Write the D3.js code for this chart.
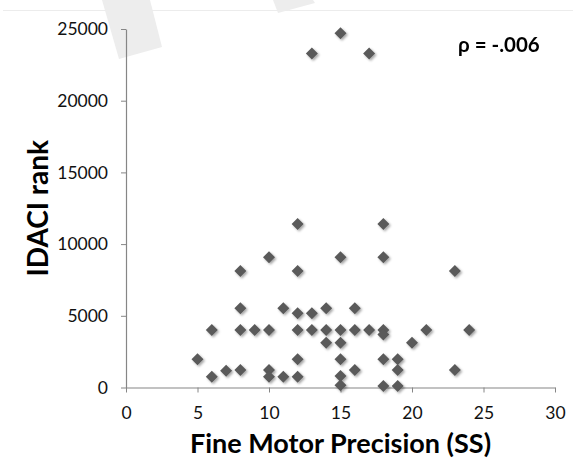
<!DOCTYPE html>
<html>
<head>
<meta charset="utf-8">
<script src="https://cdn.jsdelivr.net/npm/d3@7"></script>
<style>
  html, body { margin: 0; padding: 0; background: #fff; }
  svg { display: block; }
  text { font-family: Lato, "Open Sans", sans-serif; }
</style>
</head>
<body>
<svg id="chart" width="573" height="474"></svg>
<script>
// ---- data ----
const fineMotorSS = [
  5,
  6, 6,
  7,
  8, 8, 8, 8,
  9,
  10, 10, 10, 10,
  11, 11,
  12, 12, 12, 12, 12, 12,
  13, 13, 13,
  14, 14, 14,
  15, 15, 15, 15, 15, 15, 15,
  16, 16, 16,
  17, 17,
  18, 18, 18, 18, 18, 18,
  19, 19, 19,
  20,
  21,
  23, 23,
  24
];
const idaciRank = [
  1970,
  4010, 750,
  1170,
  8120, 5520, 4010, 1220,
  4010,
  9080, 4010, 1220, 750,
  5520, 750,
  11400, 8120, 5170, 4010, 1970, 750,
  23300, 5170, 4010,
  5520, 4010, 3120,
  24700, 9080, 4010, 3120, 1970, 800, 150,
  5520, 4010, 1220,
  23300, 4010,
  11400, 9080, 4010, 3700, 1970, 100,
  1970, 1220, 100,
  3120,
  4010,
  8120, 1220,
  4010
];
const xTicks = [0, 5, 10, 15, 20, 25, 30];
const yTicks = [0, 5000, 10000, 15000, 20000, 25000];
const xTitle = "Fine Motor Precision (SS)";
const yTitle = "IDACI rank";
const annotation = "ρ = -.006";

// ---- layout ----
const svg = d3.select("#chart");
const plot = { left: 126, right: 555, top: 29, bottom: 387.5 };

const x = d3.scaleLinear().domain([0, 30]).range([plot.left, plot.right]);
const y = d3.scaleLinear().domain([0, 25000]).range([plot.bottom, plot.top]);

// decorative faint background shapes / line (as in reference)
svg.append("line")
  .attr("x1", 3).attr("x2", 573).attr("y1", 10.5).attr("y2", 10.5)
  .attr("stroke", "#ececec").attr("stroke-width", 1);
svg.append("polygon")
  .attr("points", "102,0 150,0 162,47 119,59")
  .attr("fill", "#ededed");
svg.append("polygon")
  .attr("points", "273,0 313,0 315,3 278,13")
  .attr("fill", "#ededed");

const defs = svg.append("defs");
const f = defs.append("filter").attr("id", "shadow")
  .attr("x", "-50%").attr("y", "-50%").attr("width", "200%").attr("height", "200%");
f.append("feDropShadow")
  .attr("dx", 1.5).attr("dy", 1.5).attr("stdDeviation", 1.2)
  .attr("flood-color", "#000").attr("flood-opacity", 0.35);

// axes
const axisColor = "#868686";
const gx = svg.append("g")
  .attr("transform", `translate(0,${plot.bottom})`)
  .call(d3.axisBottom(x).tickValues(xTicks).tickSize(5).tickPadding(14).tickSizeOuter(0));
const gy = svg.append("g")
  .attr("transform", `translate(${plot.left},0)`)
  .call(d3.axisLeft(y).tickValues(yTicks).tickSize(5).tickPadding(13).tickSizeOuter(0)
        .tickFormat(d3.format("d")));

[gx, gy].forEach(g => {
  g.select(".domain").attr("stroke", axisColor).attr("stroke-width", 1.2);
  g.selectAll(".tick line").attr("stroke", axisColor).attr("stroke-width", 1);
  g.selectAll(".tick text")
    .attr("fill", "#111")
    .style("font-family", "Lato, 'Open Sans', sans-serif")
    .style("font-size", "17.5px");
});
gx.selectAll(".tick text").attr("dy", "0.71em");

// points
const pts = fineMotorSS.map((v, i) => ({ x: v, y: idaciRank[i] }));
const diamond = d3.symbol().type(d3.symbolSquare).size(72);
svg.append("g")
  .attr("filter", "url(#shadow)")
  .selectAll("path")
  .data(pts)
  .join("path")
  .attr("d", diamond)
  .attr("transform", d => `translate(${x(d.x)},${y(d.y)}) rotate(45)`)
  .attr("fill", "#5a5a5a");

// titles
svg.append("text")
  .attr("x", (plot.left + plot.right) / 2)
  .attr("y", 453)
  .attr("text-anchor", "middle")
  .style("font-size", "27px")
  .style("font-weight", "bold")
  .attr("fill", "#000")
  .text(xTitle);

svg.append("text")
  .attr("transform", `translate(48,${(plot.top + plot.bottom) / 2}) rotate(-90)`)
  .attr("text-anchor", "middle")
  .style("font-size", "28px")
  .style("font-weight", "bold")
  .attr("fill", "#000")
  .text(yTitle);

svg.append("text")
  .attr("x", 458)
  .attr("y", 52)
  .style("font-size", "20.5px")
  .style("font-weight", "bold")
  .attr("fill", "#000")
  .text(annotation);
</script>
</body>
</html>
